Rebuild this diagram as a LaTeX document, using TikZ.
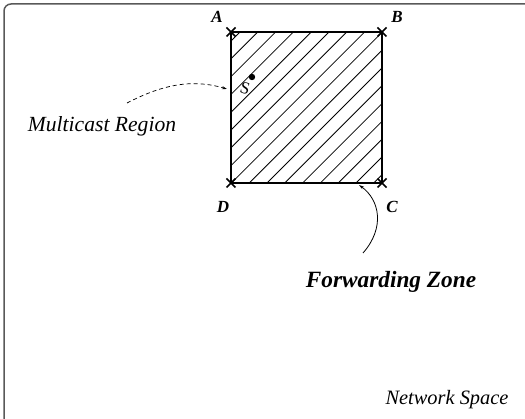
\documentclass[tikz,border=0pt]{standalone}
\usepackage{fontspec}
\setmainfont{Liberation Serif}
\usetikzlibrary{arrows.meta}
\begin{document}
\begin{tikzpicture}[x=1pt,y=-1pt,
  hatch/.style={line width=0.8pt},
  sqline/.style={line width=1.8pt},
  crossline/.style={line width=1.6pt},
  cornerlbl/.style={font=\fontsize{17}{18}\selectfont\bfseries\itshape, inner sep=0pt},
  bigtext/.style={font=\fontsize{21.6}{24}\selectfont\itshape, inner sep=0pt},
  fztext/.style={font=\fontsize{23.3}{26}\selectfont\bfseries\itshape, inner sep=0pt},
  tip/.style={-{Stealth[length=5pt,width=3pt]}}]
\useasboundingbox (0,0) rectangle (525,419);
\begin{scope}
  \clip (0,0) rectangle (525,419);
  \draw[line width=1.5pt, draw=black!65, rounded corners=7pt] (4,4) rectangle (534,428);
\end{scope}
% square corners
\coordinate (A) at (231,32);
\coordinate (B) at (382,32);
\coordinate (C) at (382,183);
\coordinate (D) at (231,183);
% hatching
\begin{scope}
  \clip (A) rectangle (C);
  \foreach \k in {0,...,16}{
    \draw[hatch] ({272+\k*17.8-200},200) -- ({272+\k*17.8},0);
  }
\end{scope}
\draw[sqline] (A) -- (B) -- (C) -- (D) -- cycle;
\foreach \p in {A,B,C,D}{
  \draw[crossline] ([shift={(-4.5,-4.5)}]\p) -- ([shift={(4.5,4.5)}]\p);
  \draw[crossline] ([shift={(-4.5,4.5)}]\p) -- ([shift={(4.5,-4.5)}]\p);
}
% corner labels
\node[cornerlbl] (la) at (217,17) {A};
\node[cornerlbl] (lb) at (397,17) {B};
\node[cornerlbl] (lc) at (392,207) {C};
\node[cornerlbl] (ld) at (223,207) {D};
% source
\fill (252,77) circle (3.2pt);
\node[font=\fontsize{17}{18}\selectfont, inner sep=0pt, rotate=-15] (s) at (245,88) {S};
% multicast region
\node[bigtext] (mr) at (102,126) {Multicast Region};
\coordinate (ms) at (127,103);
\coordinate (me) at (227,89);
\draw[tip, dash pattern=on 4pt off 3pt, line width=0.7pt] (ms) .. controls (160,86) and (190,78) .. (me);
% forwarding zone
\node[fztext] (fz) at (391,282) {Forwarding Zone};
\coordinate (fs) at (363,253);
\coordinate (fe) at (359,185);
\draw[tip, line width=0.8pt] (fs) .. controls (385,228) and (380,200) .. (fe);
% network space
\node[font=\fontsize{20.4}{22}\selectfont\itshape, inner sep=0pt] (ns) at (447,400) {Network Space};
\end{tikzpicture}
\end{document}
